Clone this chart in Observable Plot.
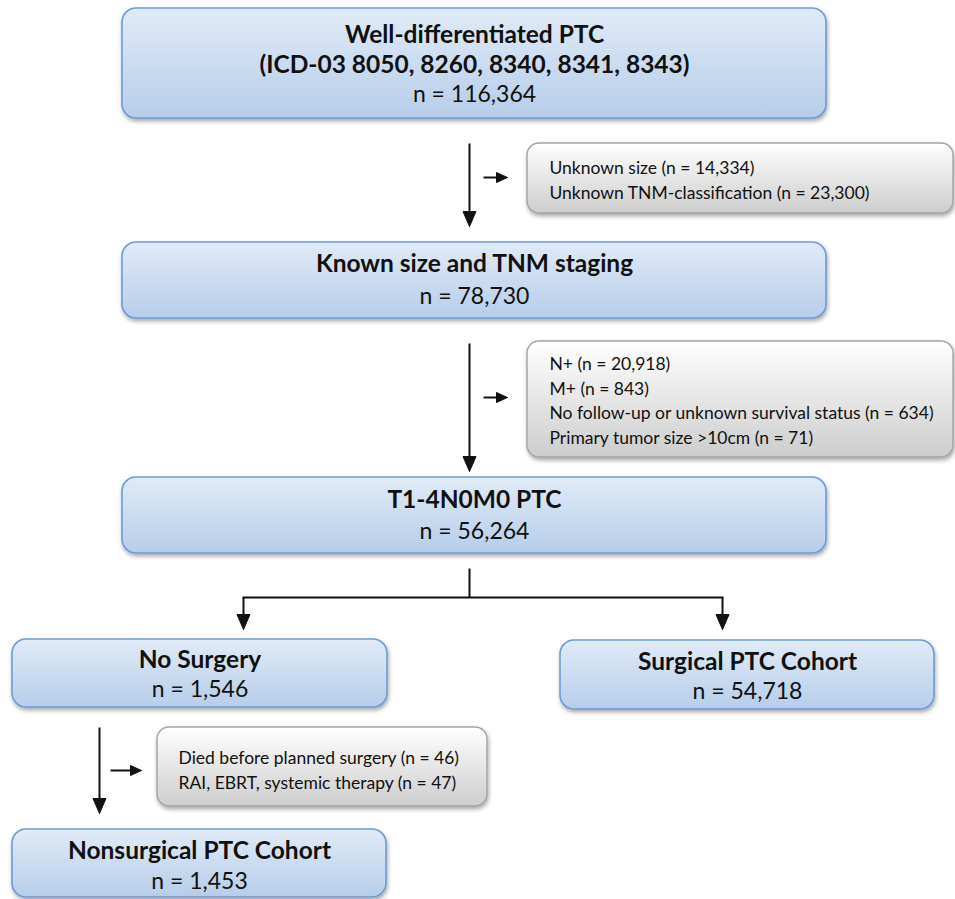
<!DOCTYPE html>
<html>
<head>
<meta charset="utf-8">
<script src="https://cdn.jsdelivr.net/npm/d3@7"></script>
<script src="https://cdn.jsdelivr.net/npm/@observablehq/plot@0.6"></script>
<style>
  html, body { margin: 0; padding: 0; background: #fff; }
  #chart svg { display: block; }
</style>
</head>
<body>
<div id="chart"></div>
<script>
// ---------- data (texts and counts) ----------
const stageTitles = [
  "Well-differentiated PTC\n(ICD-03 8050, 8260, 8340, 8341, 8343)",
  "Known size and TNM staging",
  "T1-4N0M0 PTC",
  "No Surgery",
  "Surgical PTC Cohort",
  "Nonsurgical PTC Cohort"
];
const stageCounts = ["116,364", "78,730", "56,264", "1,546", "54,718", "1,453"];
const exclusionLines1 = ["Unknown size (n = 14,334)", "Unknown TNM-classification (n = 23,300)"];
const exclusionLines2 = ["N+ (n = 20,918)", "M+ (n = 843)", "No follow-up or unknown survival status (n = 634)", "Primary tumor size >10cm (n = 71)"];
const exclusionLines3 = ["Died before planned surgery (n = 46)", "RAI, EBRT, systemic therapy (n = 47)"];

// ---------- layout (positions in page pixels) ----------
const stageLayout = [
  {x1: 122, y1: 8,   x2: 826, y2: 118, titleY: 48, countY: 94},
  {x1: 122, y1: 242, x2: 826, y2: 318, titleY: 262, countY: 296},
  {x1: 122, y1: 477, x2: 826, y2: 553, titleY: 498, countY: 531},
  {x1: 12,  y1: 639, x2: 387, y2: 707, titleY: 658, countY: 689},
  {x1: 560, y1: 640, x2: 934, y2: 709, titleY: 660, countY: 691},
  {x1: 12,  y1: 829, x2: 386, y2: 897, titleY: 849, countY: 881}
];
const exclusionLayout = [
  {x1: 527, y1: 143, x2: 953, y2: 213, textX: 549, firstY: 168, step: 24.5, lines: exclusionLines1},
  {x1: 527, y1: 341, x2: 953, y2: 457, textX: 549, firstY: 364, step: 24.5, lines: exclusionLines2},
  {x1: 157, y1: 727, x2: 487, y2: 806, textX: 178, firstY: 758, step: 24.5, lines: exclusionLines3}
];
// arrows: from (x1,y1) to tip (x2,y2); head size
const arrowLayout = [
  {x1: 469, y1: 143, x2: 469, y2: 226, head: 15, half: 6.5},
  {x1: 469, y1: 343, x2: 469, y2: 471, head: 15, half: 6.5},
  {x1: 99,  y1: 727, x2: 99,  y2: 813, head: 15, half: 6.5},
  {x1: 483, y1: 177, x2: 507, y2: 177, head: 11, half: 5},
  {x1: 483, y1: 397, x2: 507, y2: 397, head: 11, half: 5},
  {x1: 110, y1: 770, x2: 141, y2: 770, head: 11, half: 5},
  {x1: 243, y1: 597, x2: 243, y2: 629, head: 15, half: 6.5},
  {x1: 722, y1: 597, x2: 722, y2: 629, head: 15, half: 6.5}
];
const plainLines = [
  {x1: 469, y1: 568, x2: 469, y2: 597},
  {x1: 242, y1: 597, x2: 723, y2: 597}
];

// ---------- build tables ----------
const stages = stageTitles.map((t, i) => ({title: t, count: "n = " + stageCounts[i], ...stageLayout[i]}));
const exclusionBoxes = exclusionLayout;
const exclusionText = exclusionLayout.flatMap((b) =>
  b.lines.map((line, j) => ({text: line, x: b.textX, y: b.firstY + j * b.step}))
);
const shafts = arrowLayout.map((a) => {
  const dx = Math.sign(a.x2 - a.x1), dy = Math.sign(a.y2 - a.y1);
  return {x1: a.x1, y1: a.y1, x2: a.x2 - dx * (a.head - 2), y2: a.y2 - dy * (a.head - 2)};
}).concat(plainLines);
const heads = arrowLayout.flatMap((a, i) => {
  const dx = Math.sign(a.x2 - a.x1), dy = Math.sign(a.y2 - a.y1);
  const bx = a.x2 - dx * a.head, by = a.y2 - dy * a.head;
  const px = -dy, py = dx;
  return [
    {id: i, x: a.x2, y: a.y2},
    {id: i, x: bx + px * a.half, y: by + py * a.half},
    {id: i, x: bx - px * a.half, y: by - py * a.half},
    {id: i, x: a.x2, y: a.y2}
  ];
});

const chart = Plot.plot({
  width: 955,
  height: 899,
  margin: 0,
  x: {domain: [0, 955], range: [0, 955], axis: null},
  y: {domain: [0, 899], range: [0, 899], axis: null},
  style: {fontFamily: "Lato, 'Open Sans', sans-serif", background: "#fff", color: "#111"},
  marks: [
    Plot.rect(stages, {x1: "x1", x2: "x2", y1: "y1", y2: "y2", rx: 14, fill: "url(#blueGrad)", stroke: "#6d9bd6", strokeWidth: 1.6}),
    Plot.rect(exclusionBoxes, {x1: "x1", x2: "x2", y1: "y1", y2: "y2", rx: 12, fill: "url(#grayGrad)", stroke: "#a2a2a2", strokeWidth: 1.4}),
    Plot.link(shafts, {x1: "x1", y1: "y1", x2: "x2", y2: "y2", stroke: "#111", strokeWidth: 2}),
    Plot.line(heads, {x: "x", y: "y", z: "id", fill: "#111", stroke: "#111", strokeWidth: 1, curve: "linear"}),
    Plot.text(stages, {x: (d) => (d.x1 + d.x2) / 2, y: "titleY", text: "title", fontSize: 24.5, fontWeight: "bold", lineHeight: 1.24, fill: "#111"}),
    Plot.text(stages, {x: (d) => (d.x1 + d.x2) / 2, y: "countY", text: "count", fontSize: 23, fill: "#111"}),
    Plot.text(exclusionText, {x: "x", y: "y", text: "text", textAnchor: "start", fontSize: 17.5, fill: "#111"})
  ]
});

const svg = d3.select(chart);
svg.insert("defs", ":first-child").html(`
  <linearGradient id="blueGrad" x1="0" y1="0" x2="0" y2="1">
    <stop offset="0" stop-color="#e1ebf7"/>
    <stop offset="1" stop-color="#b6cdea"/>
  </linearGradient>
  <linearGradient id="grayGrad" x1="0" y1="0" x2="0" y2="1">
    <stop offset="0" stop-color="#ffffff"/>
    <stop offset="1" stop-color="#cdcdcd"/>
  </linearGradient>
  <filter id="shadow" x="-5%" y="-10%" width="110%" height="130%">
    <feDropShadow dx="1" dy="2.5" stdDeviation="2" flood-color="#000" flood-opacity="0.35"/>
  </filter>
`);
const rectGroups = svg.selectAll("g[aria-label=rect]").nodes();
rectGroups.forEach((g, i) => {
  const r = i === 0 ? 14 : 12;
  d3.select(g).attr("filter", "url(#shadow)").selectAll("rect").attr("rx", r).attr("ry", r);
});
document.getElementById("chart").appendChild(chart);
</script>
</body>
</html>
